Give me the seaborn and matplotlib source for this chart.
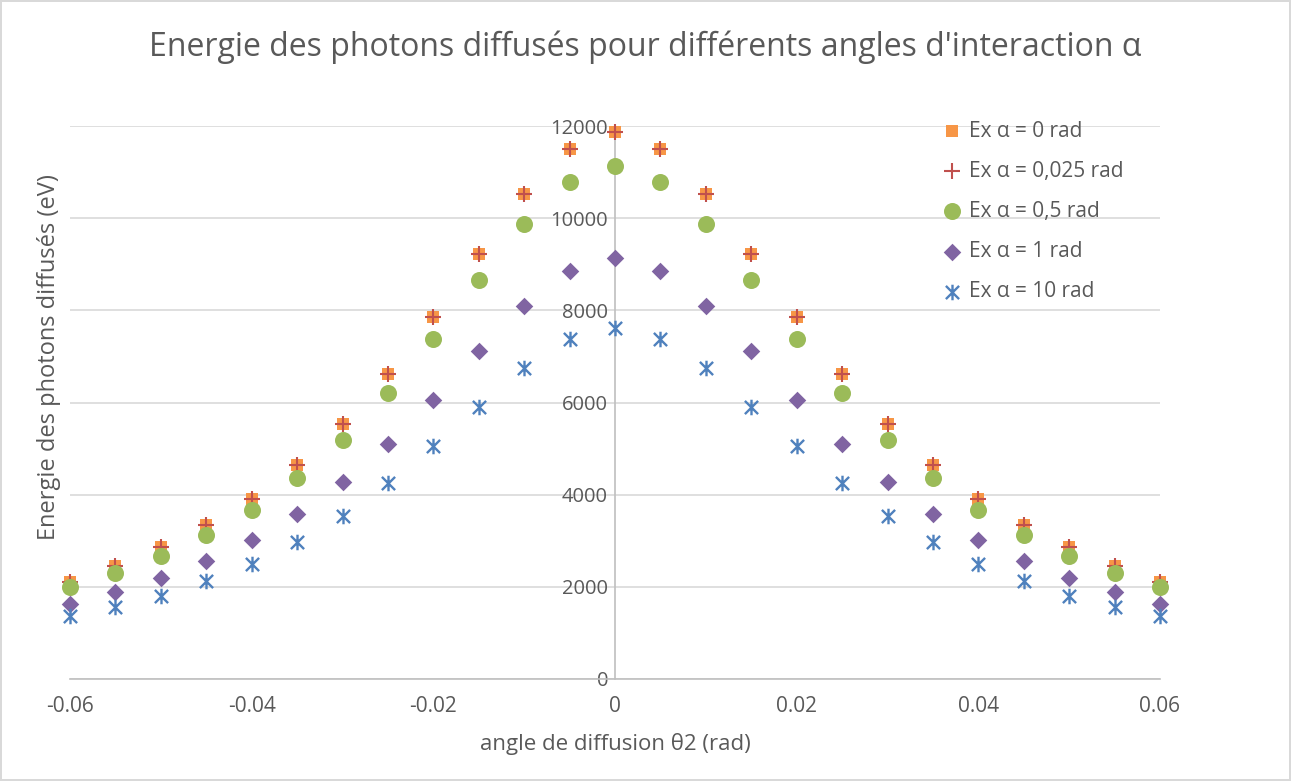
import matplotlib.pyplot as plt
import numpy as np
import pandas as pd
import seaborn as sns
from matplotlib.path import Path

# angles theta2 (rad), symmetric around 0
theta = [-0.06, -0.055, -0.05, -0.045, -0.04, -0.035, -0.03, -0.025, -0.02, -0.015, -0.01, -0.005,
         0.0, 0.005, 0.01, 0.015, 0.02, 0.025, 0.03, 0.035, 0.04, 0.045, 0.05, 0.055, 0.06]

# right half values (theta = 0 .. 0.06)
half_a0 = [11870, 11500, 10525, 9223, 7856, 6619, 5534, 4644, 3906, 3342, 2865, 2452, 2105]
half_a0025 = [11860, 11495, 10520, 9218, 7852, 6615, 5530, 4640, 3903, 3340, 2862, 2450, 2103]
half_a05 = [11133, 10786, 9874, 8659, 7378, 6207, 5187, 4362, 3668, 3125, 2669, 2300, 1997]
half_a1 = [9136, 8854, 8095, 7118, 6055, 5100, 4275, 3581, 3016, 2561, 2192, 1888, 1628]
half_a10 = [7617, 7378, 6749, 5903, 5056, 4253, 3537, 2973, 2496, 2127, 1801, 1562, 1367]

series_labels = ["Ex α = 0 rad", "Ex α = 0,025 rad", "Ex α = 0,5 rad", "Ex α = 1 rad", "Ex α = 10 rad"]

xtick_vals = [-0.06, -0.04, -0.02, 0, 0.02, 0.04, 0.06]
xtick_labels = ["-0.06", "-0.04", "-0.02", "0", "0.02", "0.04", "0.06"]
ytick_vals = [0, 2000, 4000, 6000, 8000, 10000, 12000]


def mirror(half):
    return half[:0:-1] + half


# Excel-like star: an X with a vertical bar through it
star = Path([(0, -1), (0, 1), (-0.85, -0.85), (0.85, 0.85), (-0.85, 0.85), (0.85, -0.85)],
            [Path.MOVETO, Path.LINETO, Path.MOVETO, Path.LINETO, Path.MOVETO, Path.LINETO])

sns.set_theme(style="white")
plt.rcParams["font.family"] = ["Open Sans", "DejaVu Sans"]
grey = "#595959"

fig = plt.figure(figsize=(12.91, 7.81), dpi=100)
fig.patch.set_edgecolor("#D9D9D9")
fig.patch.set_linewidth(1.5)
ax = fig.add_axes([70 / 1291, 1 - 679 / 781, 1090 / 1291, 553 / 781])

styles = [
    dict(marker="s", color="#F79646", s=72, linewidth=0),
    dict(marker="+", color="#C0504D", s=120, linewidth=1.5),
    dict(marker="o", color="#9BBB59", s=150, linewidth=0),
    dict(marker="D", color="#8064A2", s=80, linewidth=0),
    dict(marker=star, color="#4F81BD", edgecolor="#4F81BD", s=125, linewidth=1.7),
]
halves = [half_a0, half_a0025, half_a05, half_a1, half_a10]

for lab, half, st in zip(series_labels, halves, styles):
    df = pd.DataFrame({"theta": theta, "energy": mirror(half)})
    sns.scatterplot(data=df, x="theta", y="energy", ax=ax, label=lab, zorder=3,
                    clip_on=False, **st)

ax.set_xlim(-0.06, 0.06)
ax.set_ylim(0, 12000)
ax.set_xticks(xtick_vals)
ax.set_xticklabels(xtick_labels)
ax.set_yticks(ytick_vals)
ax.grid(axis="y", color="#D9D9D9", linewidth=1.2)
ax.grid(axis="x", visible=False)

for side in ["top", "right"]:
    ax.spines[side].set_visible(False)
ax.spines["left"].set_position(("data", 0))
ax.spines["left"].set_color("#BFBFBF")
ax.spines["left"].set_linewidth(1.2)
ax.spines["bottom"].set_color("#BFBFBF")
ax.spines["bottom"].set_linewidth(1.2)
ax.spines["left"].set_zorder(1)
ax.tick_params(axis="y", length=0, labelsize=14.5, labelcolor=grey, pad=5)
ax.tick_params(axis="x", length=0, labelsize=15, labelcolor=grey, pad=12)

ax.set_xlabel("angle de diffusion θ2 (rad)", fontsize=16, color=grey, labelpad=12)
ax.set_ylabel("")
fig.text(49 / 1291, 1 - 357 / 781, "Energie des photons diffusés (eV)", rotation=90,
         fontsize=17, color=grey, ha="center", va="center")
fig.text(0.5, 1 - 47 / 781, "Energie des photons diffusés pour différents angles d'interaction α",
         fontsize=23, color=grey, ha="center", va="center")

leg = ax.legend(loc="upper left", bbox_to_anchor=(0.792, 1.025), frameon=False, fontsize=15,
                labelspacing=0.92, handletextpad=0.3, handlelength=1.0, borderaxespad=0)
for t in leg.get_texts():
    t.set_color(grey)

fig.savefig("out.png", dpi=100)
